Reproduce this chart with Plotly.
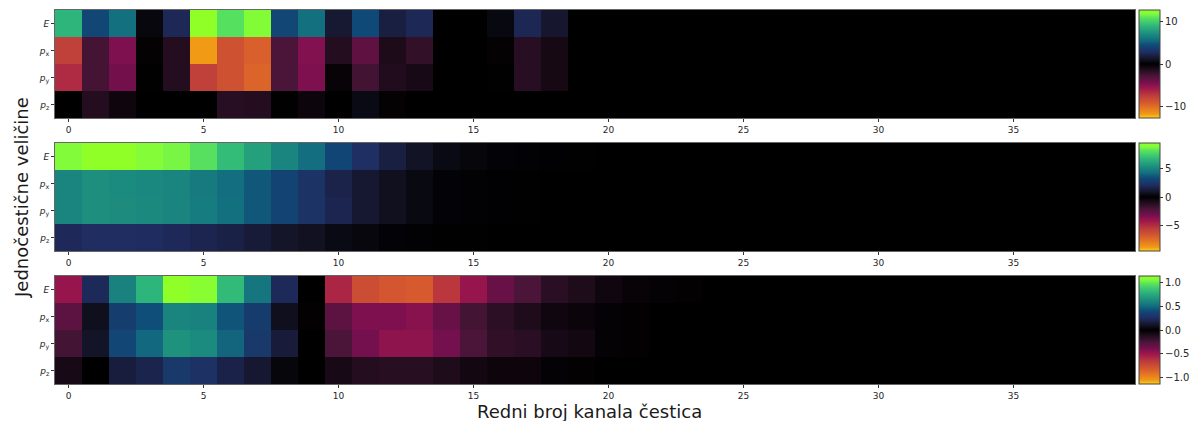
import plotly.graph_objects as go

W, H = 1197, 421
channels = list(range(40))
quantities = ["<i>p</i><sub>z</sub>", "<i>p</i><sub>y</sub>", "<i>p</i><sub>x</sub>", "<i>E</i>"]
x_ticks = [0, 5, 10, 15, 20, 25, 30, 35]

top_E = [8.9, 4.2, 5.7, 0.4, 2.5, 12.7, 10.8, 12.0, 4.2, 5.7, 1.5, 4.4, 1.9, 2.5, 0, 0, 0.5, 2.4, 1.4]
top_px = [-7.6, -2.6, -4.6, -0.2, -1.5, -11.8, -8.6, -9.4, -2.8, -4.7, -1.5, -3.5, -1.2, -1.9, 0, 0, -0.2, -1.6, -0.9]
top_py = [-6.6, -2.6, -4.2, -0.1, -1.5, -7.6, -8.6, -9.6, -2.8, -4.6, -0.3, -2.5, -1.3, -1.0, 0, 0, -0.1, -1.6, -0.9]
top_pz = [0, -1.5, -0.6, 0, 0, 0, -1.6, -1.4, -0.1, -0.5, 0, 0.6, -0.2, 0]

mid_E = [8.8, 9.4, 9.4, 8.9, 8.6, 8.0, 6.8, 5.9, 5.0, 4.2, 3.1, 2.1, 1.4, 0.85, 0.45, 0.25, 0.15, 0.1, 0.06, 0.03]
mid_px = [5.0, 5.3, 5.2, 5.1, 5.0, 4.6, 4.2, 3.6, 3.0, 2.3, 1.6, 1.1, 0.7, 0.4, 0.15, 0.1, 0.06, 0.03]
mid_py = [5.0, 5.3, 5.25, 5.15, 5.0, 4.65, 4.25, 3.6, 3.0, 2.3, 1.7, 1.1, 0.7, 0.4, 0.15, 0.1, 0.06, 0.03]
mid_pz = [1.9, 2.05, 2.05, 2.0, 1.9, 1.7, 1.5, 1.2, 0.95, 0.75, 0.45, 0.3, 0.15, 0.08, 0.05, 0.03, 0.02]

bot_E = [-0.48, 0.23, 0.59, 0.8, 1.14, 1.1, 0.82, 0.54, 0.23, 0, -0.57, -0.75, -0.8, -0.82, -0.65, -0.48, -0.34, -0.25, -0.15, -0.11, -0.06, -0.03, -0.02, -0.01]
bot_px = [-0.31, 0.08, 0.34, 0.41, 0.6, 0.59, 0.43, 0.33, 0.08, -0.01, -0.31, -0.41, -0.41, -0.44, -0.34, -0.23, -0.16, -0.11, -0.06, -0.04, -0.02, -0.01]
bot_py = [-0.23, 0.11, 0.38, 0.49, 0.66, 0.63, 0.48, 0.31, 0.15, 0, -0.25, -0.38, -0.46, -0.46, -0.38, -0.25, -0.17, -0.15, -0.09, -0.07, -0.02, -0.01]
bot_pz = [-0.09, 0, 0.16, 0.2, 0.31, 0.27, 0.19, 0.13, 0.03, 0, -0.09, -0.13, -0.14, -0.14, -0.11, -0.07, -0.05, -0.05, -0.02, -0.01]

limits = [12.7, 9.4, 1.14]
cbar_ticks = [[-10, 0, 10], [-5, 0, 5], [-1.0, -0.5, 0.0, 0.5, 1.0]]
cbar_labels = [["\u221210", "0", "10"], ["\u22125", "0", "5"], ["\u22121.0", "\u22120.5", "0.0", "0.5", "1.0"]]

colorscale = [
    [0.000, "#ffd21c"], [0.035, "#f09a15"], [0.075, "#e8801f"], [0.140, "#d65a2e"],
    [0.200, "#c0403a"], [0.275, "#a0184a"], [0.325, "#7a0f50"], [0.390, "#4a1538"],
    [0.450, "#1f0c1c"], [0.500, "#000000"], [0.550, "#15152a"], [0.610, "#1f2d62"],
    [0.675, "#0f4a78"], [0.725, "#13707f"], [0.775, "#1c8a7f"], [0.850, "#2db57b"],
    [0.925, "#56e060"], [0.965, "#80fb3c"], [1.000, "#90ff28"],
]


def pad(values):
    return list(values) + [0] * (len(channels) - len(values))


panels = [
    [top_pz, top_py, top_px, top_E],
    [mid_pz, mid_py, mid_px, mid_E],
    [bot_pz, bot_py, bot_px, bot_E],
]
boxes = [(10, 118), (143, 251), (276, 384)]
LEFT, RIGHT = 55, 1135

fig = go.Figure()
layout = {}
for i, (rows, (y0, y1)) in enumerate(zip(panels, boxes)):
    n = "" if i == 0 else str(i + 1)
    fig.add_trace(go.Heatmap(
        x=channels, y=quantities, z=[pad(r) for r in rows],
        xaxis=f"x{n}", yaxis=f"y{n}", zmin=-limits[i], zmax=limits[i],
        colorscale=colorscale, xgap=0, ygap=0,
        colorbar=dict(
            x=1139 / W, xanchor="left", xpad=0, ypad=0,
            y=1 - y1 / H, yanchor="bottom", len=(y1 - y0) / H, lenmode="fraction",
            thickness=21, thicknessmode="pixels",
            outlinecolor="#444444", outlinewidth=1,
            tickmode="array", tickvals=cbar_ticks[i], ticktext=cbar_labels[i],
            ticks="outside", ticklen=3, tickwidth=1, tickcolor="#333333",
            tickfont=dict(family="DejaVu Sans", size=10, color="#262626"),
        ),
    ))
    layout[f"xaxis{n}"] = dict(
        domain=[LEFT / W, RIGHT / W], anchor=f"y{n}", range=[-0.5, 39.5],
        tickmode="array", tickvals=x_ticks, ticks="outside", ticklen=3, tickwidth=1,
        tickcolor="#333333", showgrid=False, zeroline=False, showline=True,
        linecolor="#666666", linewidth=1, mirror=True,
        tickfont=dict(family="DejaVu Sans", size=9, color="#262626"),
    )
    layout[f"yaxis{n}"] = dict(
        domain=[1 - y1 / H, 1 - y0 / H], anchor=f"x{n}", type="category",
        ticks="outside", ticklen=3, tickwidth=1, tickcolor="#333333",
        showgrid=False, zeroline=False, showline=True,
        linecolor="#666666", linewidth=1, mirror=True,
        tickfont=dict(family="DejaVu Sans", size=9, color="#262626"),
    )

fig.update_layout(
    width=W, height=H, margin=dict(l=0, r=0, t=0, b=0),
    paper_bgcolor="white", plot_bgcolor="white", **layout,
    annotations=[
        dict(text="Redni broj kanala čestica", xref="paper", yref="paper",
             x=589 / W, y=1 - 411 / H, xanchor="center", yanchor="middle", showarrow=False,
             font=dict(family="DejaVu Sans", size=18, color="#1a1a1a")),
        dict(text="Jednočestične veličine", xref="paper", yref="paper",
             x=21 / W, y=1 - 198 / H, xanchor="center", yanchor="middle", showarrow=False,
             textangle=-90, font=dict(family="DejaVu Sans", size=18, color="#1a1a1a")),
    ],
)
fig.write_html(
    "out.html",
    config={"displayModeBar": False},
    post_script="document.body.style.margin='0';document.documentElement.style.overflow='hidden';",
)
